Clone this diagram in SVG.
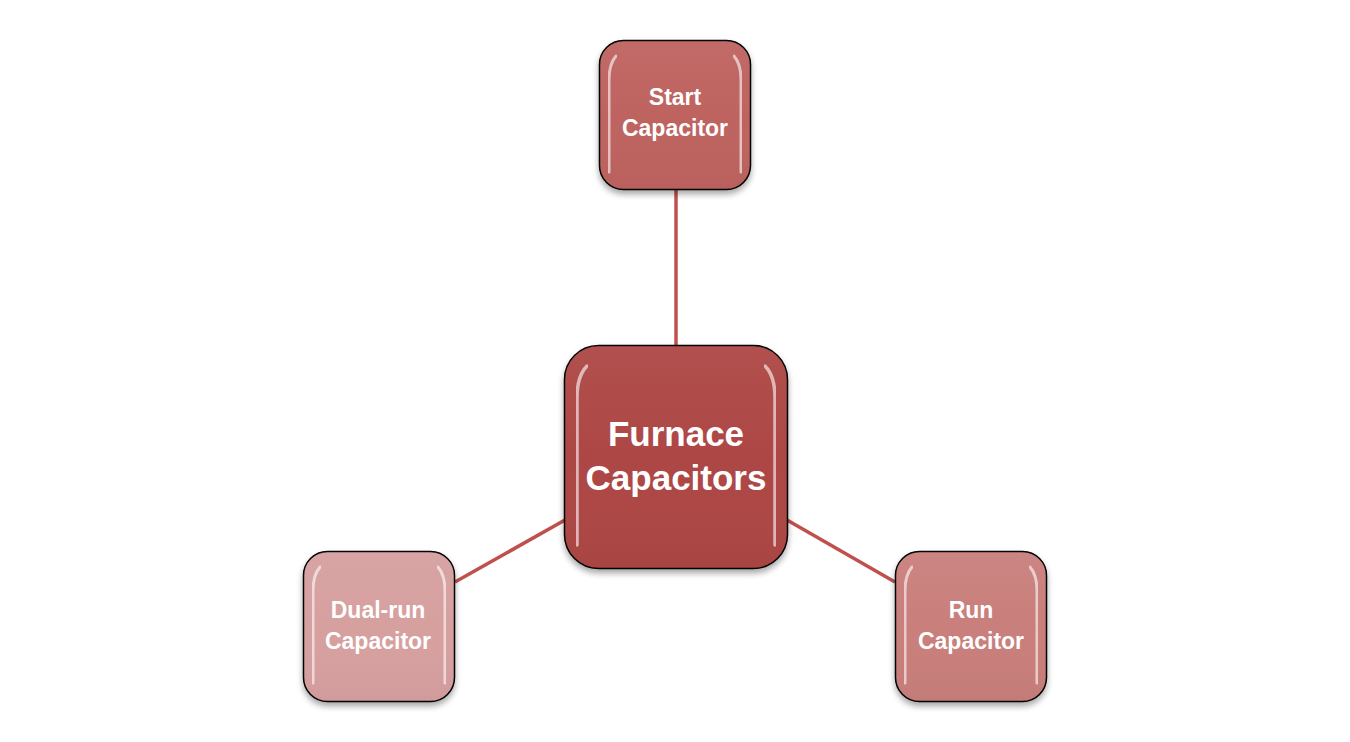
<svg xmlns="http://www.w3.org/2000/svg" width="1350" height="742" viewBox="0 0 1350 742">
<style>
.box{stroke:#000;stroke-width:1.5}
.lbl{font-family:"Liberation Sans",Arial,sans-serif;font-weight:bold;fill:#fff;text-anchor:middle}
.hl{fill:none;stroke:#fff;stroke-linecap:round;opacity:0.6}
.conn{stroke:#C0504D;stroke-width:3.5;fill:none}
</style>
<defs>
<linearGradient id="gloss" x1="0" y1="0" x2="0" y2="1">
<stop offset="0" stop-color="#fff" stop-opacity="0.05"/>
<stop offset="0.5" stop-color="#fff" stop-opacity="0"/>
<stop offset="1" stop-color="#000" stop-opacity="0.03"/>
</linearGradient>
<filter id="sh" x="-20%" y="-20%" width="140%" height="150%">
<feGaussianBlur in="SourceAlpha" stdDeviation="3"/>
<feOffset dy="4"/>
<feComponentTransfer><feFuncA type="linear" slope="0.35"/></feComponentTransfer>
<feMerge><feMergeNode/><feMergeNode in="SourceGraphic"/></feMerge>
</filter>
<filter id="soft"><feGaussianBlur stdDeviation="0.7"/></filter>
</defs>
<rect width="1350" height="742" fill="#fff"/>
<g id="connectors">
<line class="conn" x1="676" y1="190" x2="676" y2="346"/>
<line class="conn" x1="455" y1="582" x2="565" y2="520"/>
<line class="conn" x1="787" y1="520" x2="895" y2="582"/>
</g>
<g id="node-start">
<rect class="box" x="599.5" y="40.5" width="151" height="149" rx="24" fill="#BE6461" filter="url(#sh)"/>
<rect x="599.5" y="40.5" width="151" height="149" rx="24" fill="url(#gloss)"/>
<path class="hl" stroke-width="3" filter="url(#soft)" d="M616 56 Q609 64 609 80 L609 172"/>
<path class="hl" stroke-width="3" filter="url(#soft)" d="M734 56 Q741 64 741 80 L741 172"/>
<text class="lbl" font-size="23" x="675" y="105">Start</text>
<text class="lbl" font-size="23" x="675" y="136">Capacitor</text>
</g>
<g id="node-center">
<rect class="box" x="564.5" y="345.5" width="223" height="223" rx="34" fill="#AD4745" filter="url(#sh)"/>
<rect x="564.5" y="345.5" width="223" height="223" rx="34" fill="url(#gloss)"/>
<path class="hl" stroke-width="3.5" filter="url(#soft)" d="M587 366 Q577 376 577 398 L577 545"/>
<path class="hl" stroke-width="3.5" filter="url(#soft)" d="M765 366 Q775 376 775 398 L775 545"/>
<text class="lbl" font-size="35" x="676" y="446">Furnace</text>
<text class="lbl" font-size="35" x="676" y="490">Capacitors</text>
</g>
<g id="node-dualrun">
<rect class="box" x="303.5" y="551.5" width="151" height="150" rx="24" fill="#D6A09F" filter="url(#sh)"/>
<rect x="303.5" y="551.5" width="151" height="150" rx="24" fill="url(#gloss)"/>
<path class="hl" stroke-width="3" filter="url(#soft)" d="M320 567 Q313 575 313 591 L313 683"/>
<path class="hl" stroke-width="3" filter="url(#soft)" d="M438 567 Q445 575 445 591 L445 683"/>
<text class="lbl" font-size="23" x="378" y="618">Dual-run</text>
<text class="lbl" font-size="23" x="378" y="649">Capacitor</text>
</g>
<g id="node-run">
<rect class="box" x="895.5" y="551.5" width="151" height="150" rx="24" fill="#C97F7C" filter="url(#sh)"/>
<rect x="895.5" y="551.5" width="151" height="150" rx="24" fill="url(#gloss)"/>
<path class="hl" stroke-width="3" filter="url(#soft)" d="M912 567 Q905 575 905 591 L905 683"/>
<path class="hl" stroke-width="3" filter="url(#soft)" d="M1030 567 Q1037 575 1037 591 L1037 683"/>
<text class="lbl" font-size="23" x="971" y="618">Run</text>
<text class="lbl" font-size="23" x="971" y="649">Capacitor</text>
</g>
</svg>
